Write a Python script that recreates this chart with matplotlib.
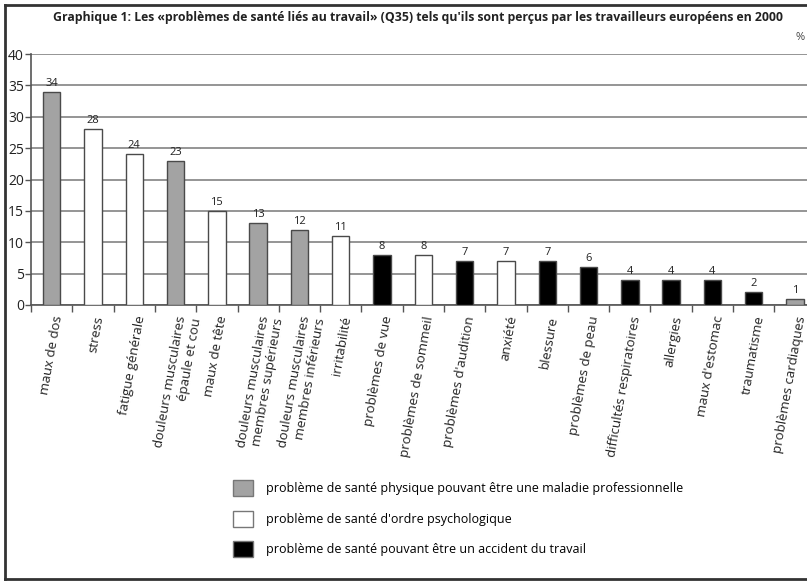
import matplotlib
matplotlib.use("Agg")
import matplotlib.pyplot as plt
from matplotlib.patches import Patch
from matplotlib.lines import Line2D

plt.rcParams['font.family'] = ['Open Sans', 'DejaVu Sans']

# data (%)
categories = ["maux de dos", "stress", "fatigue générale",
              "douleurs musculaires\népaule et cou", "maux de tête",
              "douleurs musculaires\nmembres supérieurs",
              "douleurs musculaires\nmembres inférieurs", "irritabilité",
              "problèmes de vue", "problèmes de sommeil",
              "problèmes d'audition", "anxiété", "blessure",
              "problèmes de peau", "difficultés respiratoires", "allergies",
              "maux d'estomac", "traumatisme", "problèmes cardiaques"]
values = [34, 28, 24, 23, 15, 13, 12, 11, 8, 8, 7, 7, 7, 6, 4, 4, 4, 2, 1]
# P = physique / maladie pro, S = psychologique, A = accident du travail
groups = ["P", "S", "S", "P", "S", "P", "P", "S", "A", "S",
          "A", "S", "A", "A", "A", "A", "A", "A", "P"]
group_labels = {
    "P": "problème de santé physique pouvant être une maladie professionnelle",
    "S": "problème de santé d'ordre psychologique",
    "A": "problème de santé pouvant être un accident du travail",
}
group_colors = {"P": "#a3a3a3", "S": "#ffffff", "A": "#000000"}

W, H = 807, 585
fig = plt.figure(figsize=(W / 100, H / 100), dpi=100)
fig.patch.set_facecolor("white")

# axes: left edge at x=31, 0 at y=305, 40 at y=54, last category cut by the page edge
x0, x1 = 31, 815.7
y0, y1 = 305, 54
ax = fig.add_axes([x0 / W, 1 - y0 / H, (x1 - x0) / W, (y0 - y1) / H])

xs = list(range(len(categories)))
colors = [group_colors[g] for g in groups]
ax.bar(xs, values, width=0.42, color=colors, edgecolor="#4a4a4a", linewidth=1, zorder=3)

for x, v in zip(xs, values):
    ax.text(x, v + 0.5, str(v), ha="center", va="bottom", fontsize=8, color="#222222", zorder=4)

ax.set_xlim(-0.5, len(categories) - 0.5)
ax.set_ylim(0, 40)
ax.set_yticks(range(0, 41, 5))
ax.tick_params(axis="y", length=4, width=1, color="#555555", labelsize=10, labelcolor="#222222", pad=1)
ax.yaxis.grid(True, color="#8c8c8c", linewidth=1.3, zorder=0)
ax.set_axisbelow(True)

ax.set_xticks(xs)
ax.set_xticklabels(categories, rotation=80, ha="right", va="top", rotation_mode="anchor",
                   multialignment="right", fontsize=9.5, color="#222222")
ax.tick_params(axis="x", which="major", length=0, pad=7)
ax.set_xticks([i - 0.5 for i in range(len(categories) + 1)], minor=True)
ax.tick_params(axis="x", which="minor", length=5, width=1, color="#555555")

for s in ["top", "right"]:
    ax.spines[s].set_visible(False)
for s in ["left", "bottom"]:
    ax.spines[s].set_color("#555555")
    ax.spines[s].set_linewidth(1.2)

fig.text(418 / W, 1 - 18 / H,
         "Graphique 1: Les «problèmes de santé liés au travail» (Q35) tels qu'ils sont perçus par les travailleurs européens en 2000",
         ha="center", va="center", fontsize=8.8, fontweight="bold", color="#222222")
fig.text(796 / W, 1 - 38 / H, "%", ha="left", va="center", fontsize=8, color="#444444")

handles = [Patch(facecolor=group_colors[k], edgecolor="#777777", linewidth=1) for k in ["P", "S", "A"]]
fig.legend(handles, [group_labels[k] for k in ["P", "S", "A"]],
           loc="upper left", bbox_to_anchor=(233 / W, 1 - 480 / H), frameon=False,
           fontsize=9, handlelength=1.6, handleheight=1.6, handletextpad=1.0,
           labelspacing=1.17, borderaxespad=0, borderpad=0)

# page frame (left, top, bottom; right side cut off)
fc = "#333333"
fig.add_artist(Line2D([4.5 / W, 4.5 / W], [1 - 579 / H, 1 - 5 / H], color=fc, linewidth=2, transform=fig.transFigure))
fig.add_artist(Line2D([4.5 / W, 1], [1 - 5 / H, 1 - 5 / H], color=fc, linewidth=2, transform=fig.transFigure))
fig.add_artist(Line2D([4.5 / W, 1], [1 - 579 / H, 1 - 579 / H], color=fc, linewidth=2, transform=fig.transFigure))

fig.savefig("out.png", dpi=100)
plt.close(fig)
